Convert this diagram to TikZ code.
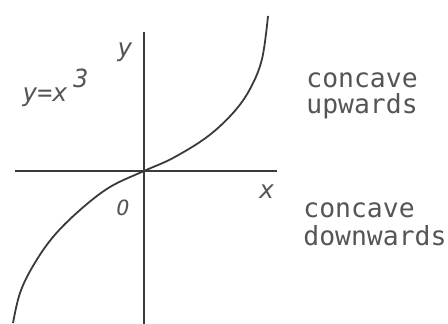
\documentclass[tikz,border=0pt]{standalone}
\usepackage{fontspec}
\setmonofont{DejaVu Sans Mono}
\definecolor{ink}{HTML}{3A3A3A}
\definecolor{txt}{HTML}{555555}
\begin{document}
\begin{tikzpicture}[x=0.5pt,y=-0.5pt,
  axis/.style={draw=ink,line width=0.8pt},
  curve/.style={draw=ink,line width=0.9pt},
  lbl/.style={text=txt,font=\fontsize{12.5}{14}\selectfont\ttfamily\itshape,inner sep=0pt},
  note/.style={text=txt,font=\fontsize{13.2}{15}\selectfont\ttfamily,inner sep=0pt,anchor=west}]
\useasboundingbox (0,0) rectangle (448,324);
\coordinate (O) at (144,171);
\coordinate (xl) at (15,171);
\coordinate (xr) at (277,171);
\coordinate (yt) at (144,32);
\coordinate (yb) at (144,324);
\draw[axis] (xl) -- (xr);
\draw[axis] (yt) -- (yb);
\draw[curve] plot[smooth,tension=0.6] coordinates {(13,323) (20,293) (33,266) (53,237) (80,210) (110,187) (144,171) (173,158) (207,137) (233,113) (250,89) (262,59) (268,16)};
\node[lbl] (ylab) at (125,52) {y};
\node[lbl] (xlab) at (267,192) {x};
\node[lbl,font=\fontsize{10.5}{12}\selectfont\ttfamily\itshape] (olab) at (123,208) {O};
\node[lbl] (eq) at (45,97) {y=x};
\node[lbl] (cube) at (81,78) {3};
\node[note] (cu1) at (306,80) {concave};
\node[note] (cu2) at (306,106) {upwards};
\node[note] (cd1) at (303,210) {concave};
\node[note] (cd2) at (303,236) {downwards};
\end{tikzpicture}
\end{document}
